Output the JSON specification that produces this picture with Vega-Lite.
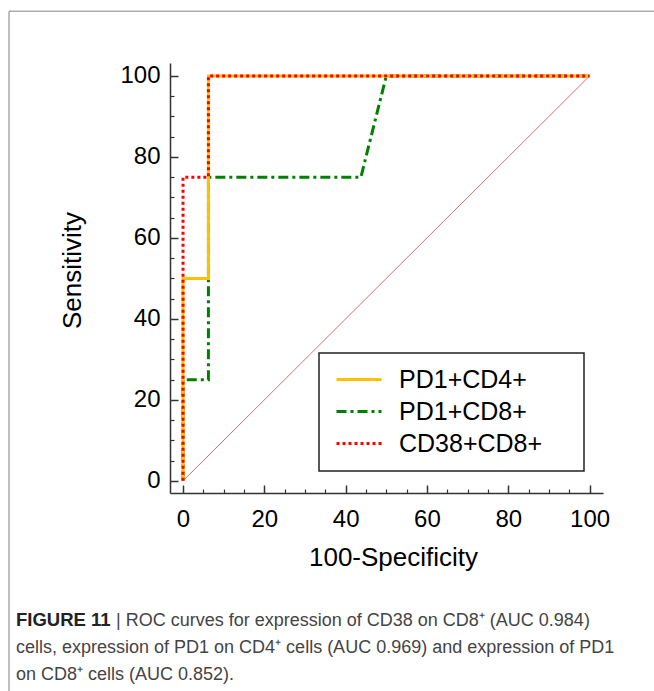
{
  "$schema": "https://vega.github.io/schema/vega-lite/v6.json",
  "width": 433,
  "height": 430,
  "autosize": {"type": "none"},
  "padding": {"left": 170, "top": 63, "right": 51, "bottom": 198},
  "background": "white",
  "config": {
    "view": {"stroke": null},
    "font": "Liberation Sans",
    "legend": {"strokeWidth": 1.5}
  },
  "title": {
    "text": "FIGURE 11",
    "subtitle": [
      "\u200b\u00a0\u00a0\u00a0\u00a0\u00a0\u00a0\u00a0\u00a0\u00a0\u00a0\u00a0\u00a0\u00a0\u00a0\u00a0\u00a0\u00a0\u00a0\u00a0\u00a0| ROC curves for expression of CD38 on CD8⁺ (AUC 0.984)",
      "cells, expression of PD1 on CD4⁺ cells (AUC 0.969) and expression of PD1",
      "on CD8⁺ cells (AUC 0.852)."
    ],
    "orient": "bottom",
    "anchor": "start",
    "frame": "group",
    "dx": -154,
    "offset": -81,
    "font": "Liberation Sans",
    "fontSize": 18.5,
    "fontWeight": "bold",
    "color": "#222222",
    "subtitleFont": "Liberation Sans",
    "subtitleFontSize": 18,
    "subtitleFontWeight": "normal",
    "subtitleColor": "#444444",
    "subtitleLineHeight": 27,
    "subtitlePadding": -17
  },
  "layer": [
    {
      "data": {"values": [{}]},
      "mark": {"type": "rule", "stroke": "#aaaaaa", "strokeWidth": 1.5},
      "encoding": {
        "x": {"datum": -42.8, "type": "quantitative", "scale": {"domain": [-3.2, 103.3], "nice": false, "zero": false}, "axis": null},
        "x2": {"datum": 125},
        "y": {"datum": 116.0, "type": "quantitative", "scale": {"domain": [-3, 103.2], "nice": false, "zero": false}, "axis": null}
      }
    },
    {
      "data": {"values": [{}]},
      "mark": {"type": "rule", "stroke": "#aaaaaa", "strokeWidth": 1.5},
      "encoding": {
        "x": {"datum": -42.8, "type": "quantitative", "scale": {"domain": [-3.2, 103.3], "nice": false, "zero": false}, "axis": null},
        "y": {"datum": 116.0, "type": "quantitative", "scale": {"domain": [-3, 103.2], "nice": false, "zero": false}, "axis": null},
        "y2": {"datum": -51.9}
      }
    },
    {
      "data": {"values": [{"x": 0, "y": 0}, {"x": 100, "y": 100}]},
      "mark": {"type": "line", "stroke": "#d07070", "strokeWidth": 1},
      "encoding": {
        "x": {
          "field": "x", "type": "quantitative",
          "scale": {"domain": [-3.2, 103.3], "nice": false, "zero": false},
          "axis": {"orient": "bottom", "values": [5, 10, 15, 25, 30, 35, 45, 50, 55, 65, 70, 75, 85, 90, 95], "labels": false, "domain": false, "grid": false, "tickSize": -4, "tickColor": "#333333", "tickWidth": 1.2, "title": null}
        },
        "y": {
          "field": "y", "type": "quantitative",
          "scale": {"domain": [-3, 103.2], "nice": false, "zero": false},
          "axis": {"orient": "left", "values": [5, 10, 15, 25, 30, 35, 45, 50, 55, 65, 70, 75, 85, 90, 95], "labels": false, "domain": false, "grid": false, "tickSize": -4, "tickColor": "#333333", "tickWidth": 1.2, "title": null}
        }
      }
    },
    {
      "data": {
        "values": [
          {"series": "PD1+CD8+", "i": 1, "x": 0, "y": 0},
          {"series": "PD1+CD8+", "i": 2, "x": 0, "y": 25},
          {"series": "PD1+CD8+", "i": 3, "x": 6.25, "y": 25},
          {"series": "PD1+CD8+", "i": 4, "x": 6.25, "y": 75},
          {"series": "PD1+CD8+", "i": 5, "x": 43.75, "y": 75},
          {"series": "PD1+CD8+", "i": 6, "x": 50, "y": 100},
          {"series": "PD1+CD8+", "i": 7, "x": 100, "y": 100},
          {"series": "PD1+CD4+", "i": 1, "x": 0, "y": 0},
          {"series": "PD1+CD4+", "i": 2, "x": 0, "y": 50},
          {"series": "PD1+CD4+", "i": 3, "x": 6.25, "y": 50},
          {"series": "PD1+CD4+", "i": 4, "x": 6.25, "y": 100},
          {"series": "PD1+CD4+", "i": 5, "x": 100, "y": 100},
          {"series": "CD38+CD8+", "i": 1, "x": 0, "y": 0},
          {"series": "CD38+CD8+", "i": 2, "x": 0, "y": 75},
          {"series": "CD38+CD8+", "i": 3, "x": 6.25, "y": 75},
          {"series": "CD38+CD8+", "i": 4, "x": 6.25, "y": 100},
          {"series": "CD38+CD8+", "i": 5, "x": 100, "y": 100}
        ]
      },
      "mark": {"type": "line", "strokeWidth": 3, "strokeCap": "butt"},
      "encoding": {
        "x": {
          "field": "x", "type": "quantitative",
          "scale": {"domain": [-3.2, 103.3], "nice": false, "zero": false},
          "axis": {"orient": "bottom", "values": [0, 20, 40, 60, 80, 100], "grid": false, "tickSize": -8, "tickWidth": 1.5, "tickColor": "#333333", "domainColor": "#333333", "domainWidth": 1.5, "labelFont": "Liberation Sans", "labelFontSize": 24, "labelColor": "#000000", "labelPadding": 22, "labelFlush": false, "labelOverlap": false, "title": "100-Specificity", "titleFont": "Liberation Sans", "titleFontSize": 26, "titleFontWeight": "normal", "titleColor": "#000000", "titleX": 223, "titleY": 64, "titleBaseline": "middle", "titleAlign": "center"}
        },
        "y": {
          "field": "y", "type": "quantitative",
          "scale": {"domain": [-3, 103.2], "nice": false, "zero": false},
          "axis": {"orient": "left", "values": [0, 20, 40, 60, 80, 100], "grid": false, "tickSize": -8, "tickWidth": 1.5, "tickColor": "#333333", "domainColor": "#333333", "domainWidth": 1.5, "labelFont": "Liberation Sans", "labelFontSize": 24, "labelColor": "#000000", "labelPadding": 18, "labelFlush": false, "labelOverlap": false, "title": "Sensitivity", "titleFont": "Liberation Sans", "titleFontSize": 26, "titleFontWeight": "normal", "titleColor": "#000000", "titleX": -98, "titleY": 207, "titleBaseline": "middle", "titleAlign": "center", "titleAngle": -90}
        },
        "order": {"field": "i", "type": "quantitative"},
        "color": {
          "field": "series", "type": "nominal",
          "scale": {"domain": ["PD1+CD4+", "PD1+CD8+", "CD38+CD8+"], "range": ["#FFC000", "#008000", "#FF0000"]},
          "legend": {"title": null, "orient": "none", "legendX": 149, "legendY": 290, "strokeColor": "#222222", "fillColor": "#ffffff", "padding": 14, "symbolType": "M-1,0H4", "symbolSize": 324, "symbolStrokeWidth": 3, "labelFont": "Liberation Sans", "labelFontSize": 25, "labelColor": "#000000", "labelOffset": 41, "labelLimit": 300, "rowPadding": 6, "labelExpr": "datum.label + '\u00a0\u00a0\u00a0\u00a0\u200b'"}
        },
        "strokeDash": {
          "field": "series", "type": "nominal",
          "scale": {"domain": ["PD1+CD4+", "PD1+CD8+", "CD38+CD8+"], "range": [[1, 0], [10, 4, 3, 4], [3, 3]]},
          "legend": {"title": null, "orient": "none", "legendX": 149, "legendY": 290, "strokeColor": "#222222", "fillColor": "#ffffff", "padding": 14, "symbolType": "M-1,0H4", "symbolSize": 324, "symbolStrokeWidth": 3, "labelFont": "Liberation Sans", "labelFontSize": 25, "labelColor": "#000000", "labelOffset": 41, "labelLimit": 300, "rowPadding": 6, "labelExpr": "datum.label + '\u00a0\u00a0\u00a0\u00a0\u200b'"}
        }
      }
    }
  ],
  "resolve": {"axis": {"x": "independent", "y": "independent"}}
}
